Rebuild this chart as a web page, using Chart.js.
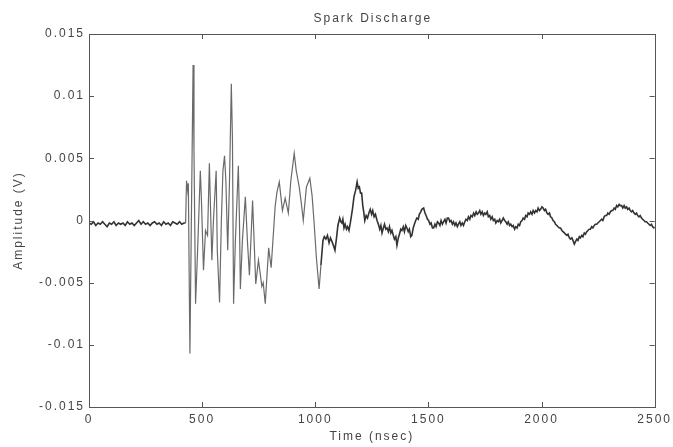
<!DOCTYPE html>
<html>
<head>
<meta charset="utf-8">
<script src="https://cdn.jsdelivr.net/npm/chart.js@4/dist/chart.umd.min.js"></script>
<style>
html,body{margin:0;padding:0;background:#fff;}
canvas{display:block;}
</style>
</head>
<body>
<canvas id="c" width="673" height="447"></canvas>
<script>
// ---- data ----
const chartTitle = 'Spark Discharge';
const xAxisTitle = 'Time (nsec)';
const yAxisTitle = 'Amplitude (V)';
const xTickLabels = ['0', '500', '1000', '1500', '2000', '2500'];
const yTickLabels = ['-0.015', '-0.01', '-0.005', '0', '0.005', '0.01', '0.015'];

// time in nsec
const timeNs = [
  0,10,20,30,40,50,60,70,80,90,100,110,120,130,140,150,160,170,180,190,200,210,220,230,240,250,260,270,280,290,300,310,320,330,340,350,360,370,380,390,400,410,420,
  427,431,436,439,446,451,460,464,471,480,492,497,506,515,524,532,543,550,562,567,577,585,592,599,605,613,621,629,634,639,647,660,665,669,678,691,700,709,723,737,749,764,770,779,794,805,823,831,841,855,867,881,892,907,916,929,937,947,961,976,986,995,1005,1017,1025,
  1034,1040,1047,1054,1061,1067,1074,1080,1087,1094,1100,
  1108,1113,1118,1122,1127,1132,1138,1143,1149,1155,1160,1165,1171,1178,1185,1190,1195,1200,1205,1210,1215,1219,1225,1231,1237,1243,1249,1254,1260,1266,1273,1279,1285,1290,1295,1301,1306,1312,1317,1323,1328,1334,1339,1345,1350,1356,1361,1367,1372,1378,1383,1389,1394,1400,1405,1411,1416,1422,1427,1433,1438,1444,1449,1455,1460,1466,1471,1479,1485,1490,1496,
  1501,1507,1512,1518,1523,1529,1534,1540,1545,1551,1556,1562,1567,1573,1578,1584,1589,1595,1600,1606,1611,1617,1622,1628,1633,1639,1644,1650,1655,1661,1666,1672,1677,1683,1688,1694,1700,1705,1711,1716,1721,1727,1732,1738,1743,1749,1754,1760,1765,1771,1776,1782,1787,1793,1798,
  1804,1809,1815,1820,1826,1831,1837,1842,1848,1853,1859,1864,1870,1875,1881,1886,1892,1897,1903,1908,1914,1919,1925,1930,1936,1941,1947,1952,1958,1963,1969,1974,1980,1985,1991,1996,
  2002,2007,2013,2018,2024,2029,2035,2040,2046,2051,2057,2062,2068,2073,2079,2084,2090,2095,2101,2106,2112,2117,2123,2128,2134,2139,2145,2150,2156,2161,2167,2172,2178,2183,2189,2194,
  2200,2205,2211,2216,2222,2227,2233,2238,2244,2249,2255,2260,2266,2271,2277,2282,2288,2293,2299,2304,2310,2315,2321,2326,2332,2337,2343,2348,2354,2359,2365,2370,2376,2381,2387,2392,2398,
  2403,2409,2414,2420,2425,2431,2436,2442,2447,2453,2458,2464,2469,2475,2480,2486,2491,2497,2500
];

// amplitude in volts
const amplitudeV = [
  -0.0002,-0.0003,-0.0001,-0.0004,-0.0002,-0.0003,-0.0001,-0.0003,-0.0005,-0.0002,-0.0003,-0.0001,-0.0004,-0.0002,-0.0003,-0.0002,-0.0004,-0.0001,-0.0003,-0.0002,-0.0004,-0.0002,0.0000,-0.0003,-0.0001,-0.0003,-0.0002,-0.0004,-0.0002,-0.0001,-0.0003,-0.0002,-0.0004,-0.0001,-0.0003,-0.0002,-0.0004,-0.0001,-0.0002,-0.0003,-0.0001,-0.0003,-0.0002,
  -0.0002,0.0032,0.0024,0.0030,-0.0107,-0.0024,0.0125,0.0056,-0.0067,-0.0024,0.0040,0.0016,-0.0040,-0.0008,-0.0012,0.0046,-0.0032,0.0000,0.0040,-0.0024,-0.0066,0.0000,0.0040,0.0052,0.0032,-0.0024,0.0032,0.0110,0.0065,-0.0067,-0.0016,0.0044,0.0000,-0.0055,-0.0016,0.0019,-0.0016,-0.0044,0.0016,-0.0051,-0.0032,-0.0053,-0.0050,-0.0067,-0.0022,-0.0038,0.0012,0.0023,0.0031,0.0008,0.0018,0.0006,0.0032,0.0054,0.0040,0.0027,0.0016,0.0000,0.0027,0.0034,0.0020,-0.0002,-0.0030,-0.0055,-0.0036,
  -0.0016,-0.0013,-0.0015,-0.0012,-0.0018,-0.0014,-0.0017,-0.0020,-0.0024,-0.0014,-0.0004,
  0.0002,-0.0001,-0.0002,0.0001,-0.0006,-0.0003,-0.0007,-0.0005,-0.0008,-0.0002,0.0004,0.0010,0.0019,0.0024,0.0031,0.0026,0.0027,0.0022,0.0022,0.0012,0.0006,0.0000,0.0004,0.0002,0.0006,0.0009,0.0005,0.0008,0.0003,0.0005,0.0000,-0.0003,-0.0007,-0.0004,-0.0010,-0.0006,-0.0003,-0.0007,-0.0006,-0.0009,-0.0005,-0.0010,-0.0008,-0.0012,-0.0015,-0.0013,-0.0020,-0.0014,-0.0011,-0.0007,-0.0008,-0.0005,-0.0009,-0.0004,-0.0006,-0.0009,-0.0007,-0.0013,-0.0012,-0.0006,-0.0003,0.0000,0.0002,0.0001,0.0005,0.0007,0.0009,0.0010,0.0006,0.0004,0.0001,
  0.0000,-0.0003,-0.0002,-0.0006,-0.0006,-0.0003,-0.0005,-0.0001,-0.0002,-0.0004,0.0000,-0.0003,-0.0001,0.0001,-0.0002,0.0002,0.0002,-0.0001,0.0000,-0.0003,-0.0001,-0.0004,-0.0002,-0.0005,-0.0003,-0.0001,-0.0004,-0.0002,-0.0004,-0.0001,0.0001,0.0000,0.0003,0.0001,0.0004,0.0003,0.0006,0.0004,0.0007,0.0005,0.0006,0.0008,0.0005,0.0007,0.0004,0.0006,0.0005,0.0007,0.0003,0.0004,0.0001,0.0003,0.0000,0.0001,-0.0002,
  0.0000,-0.0001,0.0001,-0.0002,0.0000,0.0002,0.0000,-0.0001,-0.0003,-0.0001,-0.0004,-0.0003,-0.0005,-0.0004,-0.0007,-0.0005,-0.0006,-0.0003,-0.0004,-0.0001,0.0000,0.0002,0.0001,0.0004,0.0003,0.0006,0.0005,0.0007,0.0005,0.0008,0.0006,0.0008,0.0007,0.0010,0.0008,0.0009,
  0.0011,0.0010,0.0008,0.0009,0.0006,0.0005,0.0006,0.0003,0.0002,0.0000,-0.0001,-0.0003,-0.0004,-0.0005,-0.0006,-0.0006,-0.0008,-0.0009,-0.0010,-0.0011,-0.0012,-0.0011,-0.0014,-0.0015,-0.0014,-0.0016,-0.0019,-0.0017,-0.0015,-0.0016,-0.0013,-0.0014,-0.0012,-0.0013,-0.0010,-0.0011,
  -0.0009,-0.0008,-0.0007,-0.0007,-0.0005,-0.0006,-0.0004,-0.0003,-0.0003,-0.0002,-0.0001,0.0000,0.0001,0.0000,0.0003,0.0004,0.0004,0.0006,0.0005,0.0007,0.0008,0.0008,0.0010,0.0009,0.0012,0.0011,0.0013,0.0012,0.0012,0.0010,0.0012,0.0010,0.0011,0.0009,0.0010,0.0008,0.0007,
  0.0008,0.0006,0.0005,0.0006,0.0004,0.0003,0.0004,0.0002,0.0001,0.0000,-0.0001,-0.0001,-0.0002,-0.0003,-0.0004,-0.0003,-0.0005,-0.0006,-0.0005
];

const points = timeNs.map((t, i) => ({ x: t, y: amplitudeV[i] }));

const TEXT_COLOR = '#444';
const FONT = { family: "'Liberation Sans', Arial, Helvetica, sans-serif", size: 12 };

const framePlugin = {
  id: 'frame',
  beforeDraw(chart) {
    chart.ctx.letterSpacing = '2px';
  },
  afterDraw(chart) {
    const { ctx, chartArea: a, scales } = chart;
    ctx.save();
    ctx.strokeStyle = '#555';
    ctx.lineWidth = 1;
    ctx.strokeRect(Math.round(a.left) + 0.5, Math.round(a.top) + 0.5,
                   Math.round(a.right - a.left), Math.round(a.bottom - a.top));
    const L = 5;
    ctx.beginPath();
    scales.x.ticks.forEach(t => {
      const px = Math.round(scales.x.getPixelForValue(t.value)) + 0.5;
      ctx.moveTo(px, a.bottom); ctx.lineTo(px, a.bottom - L);
      ctx.moveTo(px, a.top); ctx.lineTo(px, a.top + L);
    });
    scales.y.ticks.forEach(t => {
      const py = Math.round(scales.y.getPixelForValue(t.value)) + 0.5;
      ctx.moveTo(a.left, py); ctx.lineTo(a.left + L, py);
      ctx.moveTo(a.right, py); ctx.lineTo(a.right - L, py);
    });
    ctx.stroke();
    // chart title, centred over the plot area
    ctx.fillStyle = TEXT_COLOR;
    ctx.font = `normal ${FONT.size}px ${FONT.family}`;
    ctx.letterSpacing = '2px';
    ctx.textAlign = 'center';
    ctx.textBaseline = 'middle';
    ctx.fillText(chartTitle, (a.left + a.right) / 2 + 1, 19);
    ctx.restore();
  }
};

new Chart(document.getElementById('c'), {
  type: 'scatter',
  data: {
    datasets: [{
      data: points,
      showLine: true,
      borderColor: '#333',
      borderWidth: 1.5,
      pointRadius: 0,
      tension: 0,
      segment: {
        borderColor: (ctx) => (ctx.p0.parsed.x >= 427 && ctx.p1.parsed.x <= 1030) ? '#6a6a6a' : '#333',
        borderWidth: (ctx) => (ctx.p0.parsed.x >= 427 && ctx.p1.parsed.x <= 1030) ? 1.2 : 1.6
      }
    }]
  },
  options: {
    responsive: false,
    devicePixelRatio: 1,
    animation: false,
    layout: { padding: { left: 0, right: 16, top: 34, bottom: 0 } },
    plugins: {
      legend: { display: false },
      tooltip: { enabled: false },
      title: { display: false }
    },
    scales: {
      x: {
        type: 'linear',
        min: 0, max: 2500,
        grid: { display: false, drawTicks: false },
        border: { display: false },
        ticks: {
          stepSize: 500,
          color: TEXT_COLOR,
          font: FONT,
          padding: 5,
          maxRotation: 0,
          callback: (v) => xTickLabels[Math.round(v / 500)] ?? ''
        },
        title: { display: true, text: xAxisTitle, color: TEXT_COLOR, font: FONT, padding: { top: 0, bottom: 3 } },
        afterFit: (s) => { s.height = 40; }
      },
      y: {
        type: 'linear',
        min: -0.015, max: 0.015,
        grid: { display: false, drawTicks: false },
        border: { display: false },
        ticks: {
          stepSize: 0.005,
          color: TEXT_COLOR,
          font: FONT,
          padding: 4,
          callback: (v) => yTickLabels[Math.round((v + 0.015) / 0.005)] ?? ''
        },
        title: { display: true, text: yAxisTitle, color: TEXT_COLOR, font: FONT, padding: { top: 11, bottom: 0 } },
        afterFit: (s) => { s.width = 89; }
      }
    }
  },
  plugins: [framePlugin]
});
</script>
</body>
</html>
